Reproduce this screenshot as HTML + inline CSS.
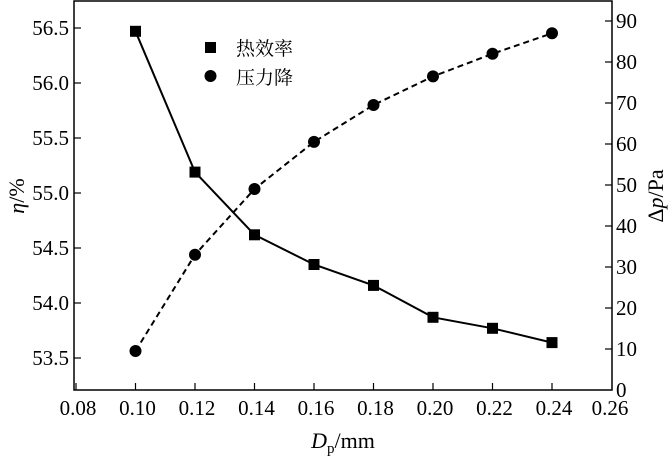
<!DOCTYPE html>
<html><head><meta charset="utf-8"><style>body{margin:0;background:#fff}svg{font-family:"Liberation Serif","Noto Serif CJK SC",serif}</style></head><body>
<svg width="672" height="459" xmlns="http://www.w3.org/2000/svg" font-size="21">
<rect x="74" y="1" width="538" height="389" fill="none" stroke="#000" stroke-width="1.5"/>
<g stroke="#000" stroke-width="1.2">
<line x1="76" y1="390" x2="76" y2="383"/><line x1="135.5" y1="390" x2="135.5" y2="383"/><line x1="195" y1="390" x2="195" y2="383"/><line x1="254.5" y1="390" x2="254.5" y2="383"/><line x1="314" y1="390" x2="314" y2="383"/><line x1="373.5" y1="390" x2="373.5" y2="383"/><line x1="433" y1="390" x2="433" y2="383"/><line x1="492.5" y1="390" x2="492.5" y2="383"/><line x1="552" y1="390" x2="552" y2="383"/>
<line x1="74" y1="28" x2="81" y2="28"/><line x1="74" y1="83" x2="81" y2="83"/><line x1="74" y1="138" x2="81" y2="138"/><line x1="74" y1="193" x2="81" y2="193"/><line x1="74" y1="248" x2="81" y2="248"/><line x1="74" y1="303" x2="81" y2="303"/><line x1="74" y1="358" x2="81" y2="358"/>
<line x1="605" y1="349" x2="612" y2="349"/><line x1="605" y1="308" x2="612" y2="308"/><line x1="605" y1="267" x2="612" y2="267"/><line x1="605" y1="226" x2="612" y2="226"/><line x1="605" y1="185" x2="612" y2="185"/><line x1="605" y1="144" x2="612" y2="144"/><line x1="605" y1="103" x2="612" y2="103"/><line x1="605" y1="62" x2="612" y2="62"/><line x1="605" y1="21" x2="612" y2="21"/>
</g>
<g text-anchor="middle">
<text x="78" y="415">0.08</text><text x="137.5" y="415">0.10</text><text x="197" y="415">0.12</text><text x="256.5" y="415">0.14</text><text x="316" y="415">0.16</text><text x="375.5" y="415">0.18</text><text x="435" y="415">0.20</text><text x="494.5" y="415">0.22</text><text x="554" y="415">0.24</text><text x="610" y="415">0.26</text>
</g>
<g text-anchor="end">
<text x="69" y="35">56.5</text><text x="69" y="90">56.0</text><text x="69" y="145">55.5</text><text x="69" y="200">55.0</text><text x="69" y="255">54.5</text><text x="69" y="310">54.0</text><text x="69" y="365">53.5</text>
</g>
<g>
<text x="616" y="397">0</text><text x="616" y="356">10</text><text x="616" y="315">20</text><text x="616" y="274">30</text><text x="616" y="233">40</text><text x="616" y="192">50</text><text x="616" y="151">60</text><text x="616" y="110">70</text><text x="616" y="69">80</text><text x="616" y="28">90</text>
</g>
<polyline fill="none" stroke="#000" stroke-width="2" points="135.5,31.3 195,172.1 254.5,234.8 314,264.5 373.5,285.4 433,317.3 492.5,328.3 552,342.6"/>
<polyline fill="none" stroke="#000" stroke-width="2" stroke-dasharray="6,4" points="135.5,351 195,254.7 254.5,189 314,141.9 373.5,105 433,76.4 492.5,53.8 552,33.3"/>
<g fill="#000">
<rect x="130" y="25.8" width="11" height="11"/><rect x="189.5" y="166.6" width="11" height="11"/><rect x="249" y="229.3" width="11" height="11"/><rect x="308.5" y="259" width="11" height="11"/><rect x="368" y="279.9" width="11" height="11"/><rect x="427.5" y="311.8" width="11" height="11"/><rect x="487" y="322.8" width="11" height="11"/><rect x="546.5" y="337.1" width="11" height="11"/>
<circle cx="135.5" cy="351" r="6"/><circle cx="195" cy="254.7" r="6"/><circle cx="254.5" cy="189" r="6"/><circle cx="314" cy="141.9" r="6"/><circle cx="373.5" cy="105" r="6"/><circle cx="433" cy="76.4" r="6"/><circle cx="492.5" cy="53.8" r="6"/><circle cx="552" cy="33.3" r="6"/>
<rect x="205" y="42" width="11" height="11"/><circle cx="210.5" cy="76" r="6"/>
</g>
<g font-size="19">
<text x="236" y="55">热效率</text><text x="236" y="84">压力降</text>
</g>
<text transform="translate(24,196) rotate(-90)" text-anchor="middle" font-size="22"><tspan font-style="italic">η</tspan>/%</text>
<text transform="translate(663,196) rotate(-90)" text-anchor="middle" font-size="22">Δ<tspan font-style="italic">p</tspan>/Pa</text>
<text x="343" y="448" text-anchor="middle" font-size="22"><tspan font-style="italic">D</tspan><tspan font-size="15" dy="5">p</tspan><tspan dy="-5">/mm</tspan></text>
</svg>
</body></html>
